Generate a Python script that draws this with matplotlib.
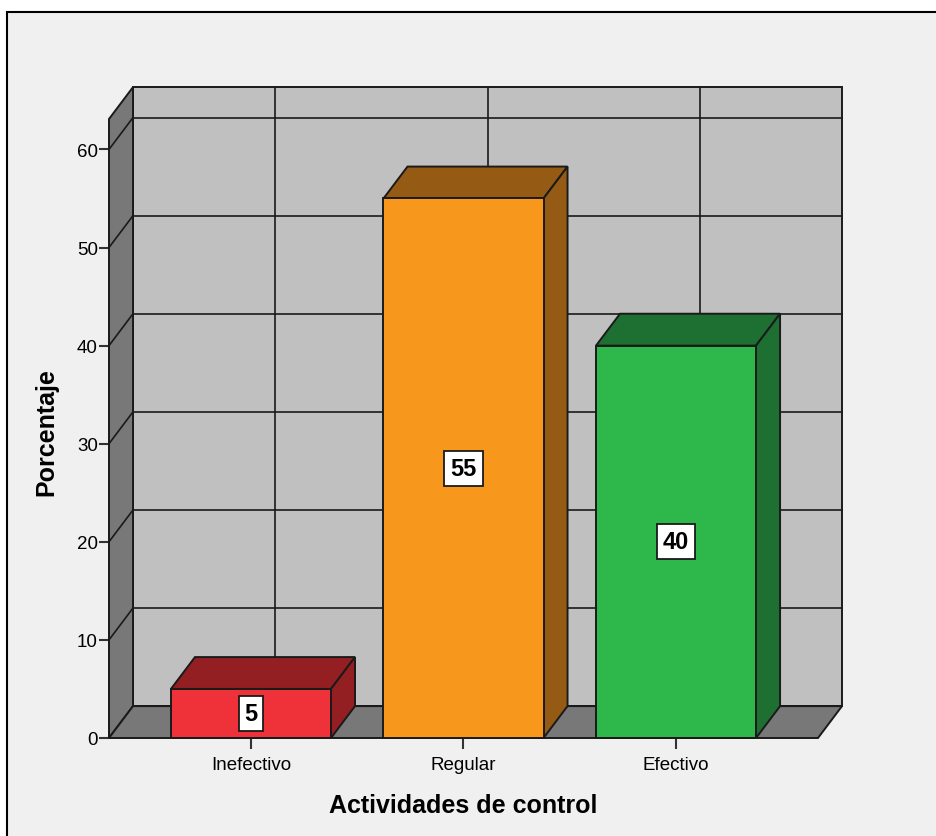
import matplotlib.pyplot as plt
from matplotlib.patches import Polygon, Rectangle

# datos del grafico
categorias = ["Inefectivo", "Regular", "Efectivo"]
porcentajes = [5, 55, 40]
color_frente = ["#EF3239", "#F7981D", "#2EB84B"]
color_lado = ["#931F22", "#955A14", "#1D7032"]
ticks_y = [0, 10, 20, 30, 40, 50, 60]

# geometria del "3D" (en unidades de datos)
X0, X1 = -0.668, 2.668
YMAX = 63.1
DX, DY = 0.113, 3.25
ANCHO = 0.753

fig = plt.figure(figsize=(9.37, 8.37), dpi=100)
fig.patch.set_facecolor("white")
fig.patches.append(Rectangle((7 / 937, -0.01), 1.0, (837 - 13) / 837 + 0.01,
                             transform=fig.transFigure, facecolor="#F0F0F0",
                             edgecolor="black", linewidth=1.5, zorder=-10))

ax = fig.add_axes([109 / 937, (837 - 739) / 837, 709 / 937, 619 / 837])
ax.set_xlim(X0, X1)
ax.set_ylim(0, YMAX)
ax.patch.set_visible(False)
for s in ax.spines.values():
    s.set_visible(False)

lw = 1.4
# pared del fondo
ax.add_patch(Rectangle((X0 + DX, DY), X1 - X0, YMAX, facecolor="#C0C0C0",
                       edgecolor="#1a1a1a", linewidth=lw, zorder=1, clip_on=False))
for t in ticks_y[1:]:
    ax.plot([X0 + DX, X1 + DX], [t + DY, t + DY], color="#1a1a1a", lw=1.2, zorder=2, clip_on=False)
    ax.plot([X0, X0 + DX], [t, t + DY], color="#1a1a1a", lw=1.2, zorder=4, clip_on=False)
for i in range(len(categorias)):
    ax.plot([i + DX, i + DX], [DY, YMAX + DY], color="#1a1a1a", lw=1.2, zorder=2, clip_on=False)

# pared izquierda y piso
ax.add_patch(Polygon([(X0, 0), (X0 + DX, DY), (X0 + DX, YMAX + DY), (X0, YMAX)],
                     closed=True, facecolor="#787878", edgecolor="#1a1a1a",
                     linewidth=lw, zorder=3, clip_on=False))
ax.add_patch(Polygon([(X0, 0), (X1, 0), (X1 + DX, DY), (X0 + DX, DY)],
                     closed=True, facecolor="#787878", edgecolor="#1a1a1a",
                     linewidth=lw, zorder=3, clip_on=False))

# barras
for i, v in enumerate(porcentajes):
    a, b = i - ANCHO / 2, i + ANCHO / 2
    ax.add_patch(Polygon([(a, v), (b, v), (b + DX, v + DY), (a + DX, v + DY)],
                         closed=True, facecolor=color_lado[i], edgecolor="#1a1a1a",
                         linewidth=lw, zorder=5, clip_on=False))
    ax.add_patch(Polygon([(b, 0), (b + DX, DY), (b + DX, v + DY), (b, v)],
                         closed=True, facecolor=color_lado[i], edgecolor="#1a1a1a",
                         linewidth=lw, zorder=5, clip_on=False))
    ax.add_patch(Rectangle((a, 0), ANCHO, v, facecolor=color_frente[i],
                           edgecolor="#1a1a1a", linewidth=lw, zorder=6, clip_on=False))
    ax.text(i, v / 2, str(v), ha="center", va="center", fontsize=17, fontweight="bold",
            family=["Liberation Sans", "DejaVu Sans"], zorder=10,
            bbox=dict(boxstyle="square,pad=0.25", facecolor="white",
                      edgecolor="#1a1a1a", linewidth=1.3))

ax.set_xticks(range(len(categorias)))
ax.set_xticklabels(categorias, family=["Liberation Sans", "DejaVu Sans"], fontsize=13.5)
ax.set_yticks(ticks_y)
ax.set_yticklabels([str(t) for t in ticks_y], family=["Liberation Sans", "DejaVu Sans"], fontsize=13.5)
ax.tick_params(axis="x", length=8, width=1.5, color="#333333", pad=5)
ax.tick_params(axis="y", length=7, width=1.5, color="#333333", pad=1)

ax.set_xlabel("Actividades de control", fontsize=18, fontweight="bold",
              family=["Liberation Sans", "DejaVu Sans"], va="center")
ax.xaxis.set_label_coords(0.499, -0.108)
ax.set_ylabel("Porcentaje", fontsize=18, fontweight="bold",
              family=["Liberation Sans", "DejaVu Sans"], va="center")
ax.yaxis.set_label_coords(-0.088, 0.496)

fig.savefig("out.png", dpi=100)
